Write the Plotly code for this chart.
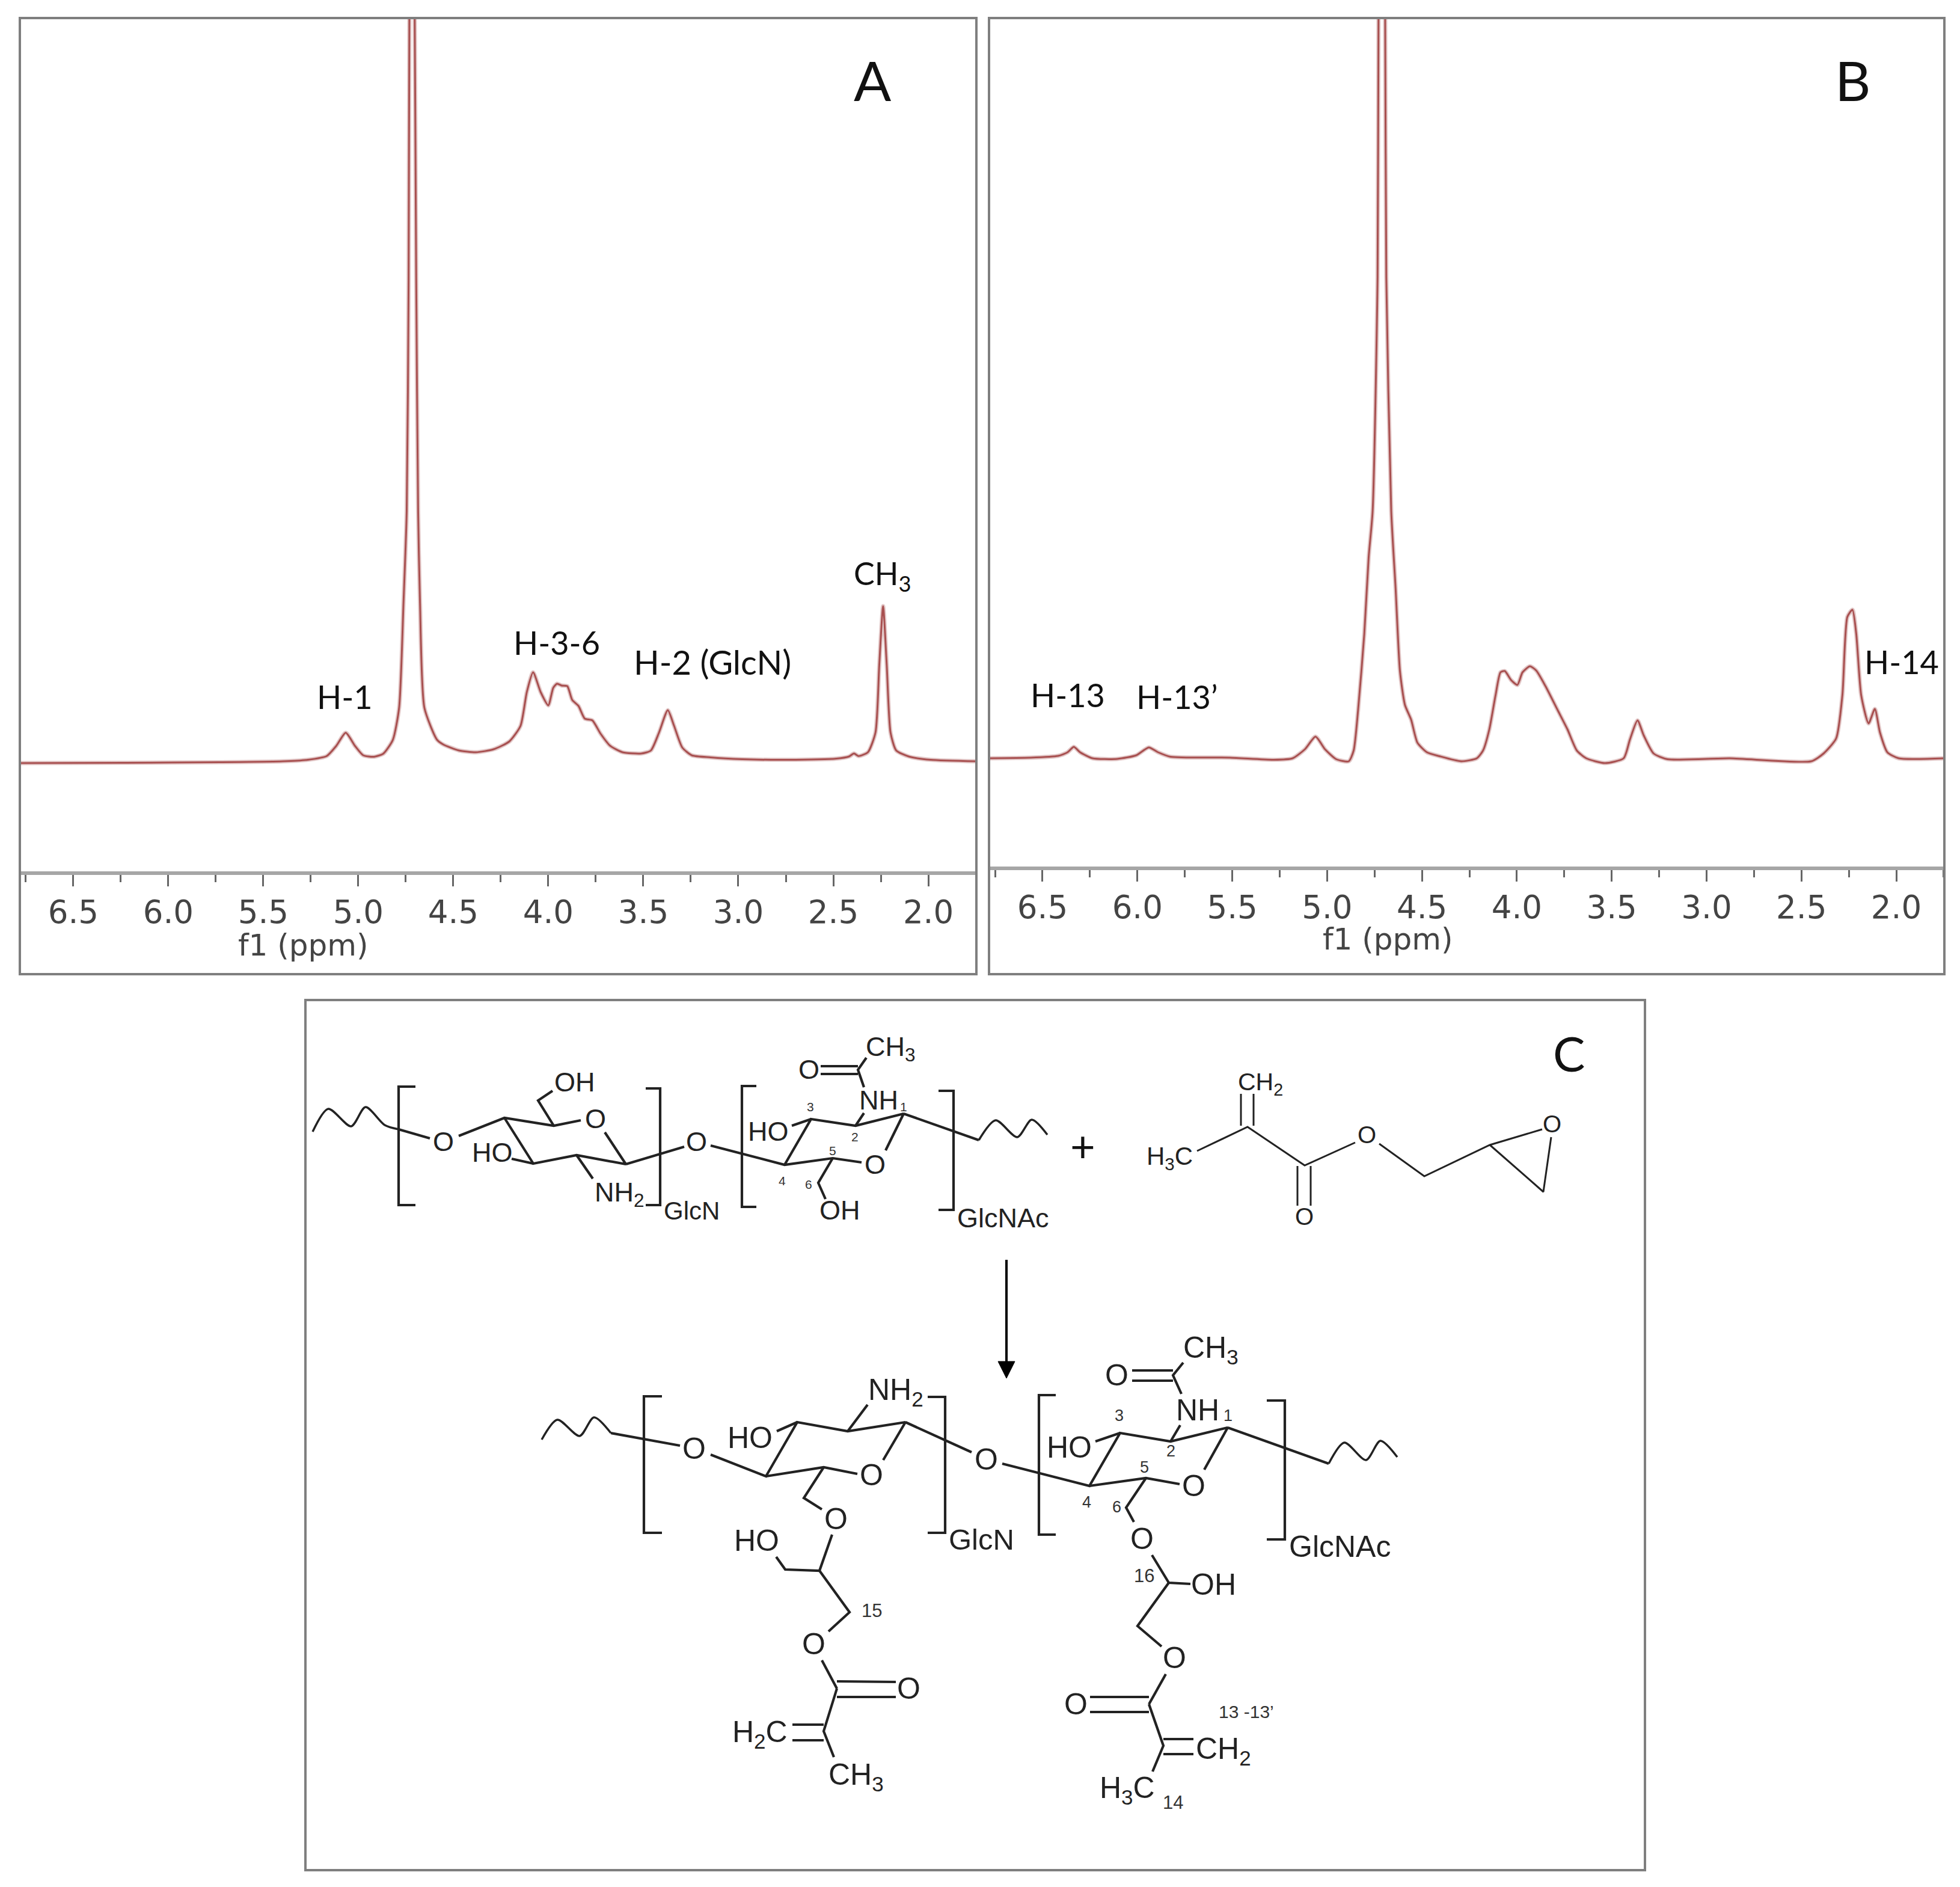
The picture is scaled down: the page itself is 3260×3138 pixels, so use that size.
# NMR spectra (A, B) and reaction scheme (C)
import plotly.graph_objects as go

W, H = 3260, 3138

# ------------------------- Spectrum data -------------------------
TICK_VALUES = [6.5, 6.0, 5.5, 5.0, 4.5, 4.0, 3.5, 3.0, 2.5, 2.0]
TICK_LABELS = ["6.5", "6.0", "5.5", "5.0", "4.5", "4.0", "3.5", "3.0", "2.5", "2.0"]

ppm_a = [
    6.781, 6.225, 5.728, 5.397, 5.265, 5.166, 5.116, 5.066, 5.017, 4.974, 4.917, 4.868,
    4.818, 4.785, 4.762, 4.745, 4.735, 4.731, 4.717, 4.703, 4.695, 4.685, 4.675, 4.652, 4.586, 4.553,
    4.47, 4.381, 4.288, 4.205, 4.146, 4.113, 4.08, 4.04, 4.0, 3.974, 3.954, 3.93, 3.9,
    3.874, 3.841, 3.808, 3.768, 3.725, 3.675, 3.609, 3.51, 3.46, 3.417, 3.371, 3.338,
    3.295, 3.245, 3.146, 2.98, 2.748, 2.483, 2.417, 2.391, 2.368, 2.318, 2.278, 2.258,
    2.238, 2.219, 2.199, 2.169, 2.103, 1.987, 1.745,
]
intensity_a = [
    -3, -2.5, -1.5, 0, 2.5, 8.7, 25.5, 47.5, 25.5, 10, 7.6, 12.8,
    35.7, 89, 263, 416, 800, 1236, 1700, 1236, 800, 416, 263, 89, 36, 28,
    18, 15, 20, 33, 59, 115, 148, 115, 93, 122, 129, 126, 125,
    102, 92, 71, 68, 46, 26, 15, 13, 18, 48, 85, 59,
    23, 10, 6.5, 3.5, 2.5, 4.5, 8, 13, 8.7, 15, 48, 161,
    258, 161, 48, 18, 8, 2.5, 0,
]

ppm_b = [
    6.78, 6.566, 6.418, 6.368, 6.335, 6.302, 6.236, 6.105, 6.006, 5.94, 5.891, 5.825,
    5.512, 5.281, 5.182, 5.117, 5.061, 5.011, 4.952, 4.886, 4.86, 4.837, 4.804, 4.781,
    4.76, 4.734, 4.729, 4.71, 4.694, 4.688, 4.662, 4.639, 4.616, 4.59, 4.557, 4.524, 4.474, 4.408,
    4.293, 4.211, 4.178, 4.145, 4.112, 4.086, 4.063, 4.03, 3.997, 3.97, 3.931, 3.898,
    3.849, 3.783, 3.733, 3.684, 3.634, 3.536, 3.437, 3.404, 3.364, 3.331, 3.279, 3.206,
    2.877, 2.449, 2.383, 2.317, 2.284, 2.258, 2.231, 2.211, 2.185, 2.146, 2.113, 2.086,
    2.047, 1.987, 1.747,
]
intensity_b = [
    0, 1, 4, 10, 19, 10, 0, -1, 5, 18, 10, 2.5,
    1, -2.5, 0, 15, 36, 15, -1.5, -5, 13, 79, 207, 334,
    411, 800, 1231, 1700, 1231, 800, 411, 283, 145, 89, 64, 26, 10, 3.5,
    -5, 0, 13, 48, 105, 143, 145, 130, 122, 143, 153, 146,
    120, 79, 48, 13, 0, -8, 0, 31, 63, 38, 8, -1.5,
    0, -5, 8, 33, 105, 235, 247, 207, 105, 58, 82, 43,
    10, 0, 0,
]

# ------------------------- Scheme drawing (panel C, image pixels) -------------------------
GLCN_TOP = [
    [(663, 1878), (715, 1893)],
    [(691, 1807), (663, 1807), (663, 2004), (691, 2004)],
    [(763, 1889), (839, 1859), (921, 1872), (966, 1863)],
    [(921, 1872), (895, 1830), (919, 1814)],
    [(839, 1859), (887, 1935), (959, 1921), (1041, 1936), (1006, 1883)],
    [(851, 1927), (887, 1935)],
    [(959, 1921), (986, 1960)],
    [(1041, 1936), (1138, 1907)],
    [(1074, 1810), (1098, 1810), (1098, 2004), (1074, 2004)],
]
GLCNAC_TOP = [
    [(1182, 1905), (1305, 1937), (1385, 1926), (1433, 1933)],
    [(1305, 1937), (1349, 1861), (1423, 1872), (1503, 1852), (1473, 1913)],
    [(1317, 1872), (1349, 1861)],
    [(1385, 1926), (1361, 1967), (1373, 1994)],
    [(1423, 1872), (1437, 1851)],
    [(1437, 1808), (1427, 1779), (1441, 1759)],
    [(1427, 1773), (1365, 1773)],
    [(1427, 1786), (1365, 1786)],
    [(1258, 1806), (1234, 1806), (1234, 2007), (1258, 2007)],
    [(1561, 1814), (1586, 1814), (1586, 2012), (1561, 2012)],
    [(1503, 1852), (1628, 1896)],
]
GMA = [
    [(2064, 1819), (2064, 1872)],
    [(2085, 1819), (2085, 1872)],
    [(1991, 1914), (2075, 1874), (2170, 1938), (2254, 1900)],
    [(2294, 1902), (2369, 1956), (2478, 1904), (2565, 1878)],
    [(2478, 1904), (2567, 1982), (2580, 1891)],
    [(2158, 1939), (2158, 2005)],
    [(2180, 1939), (2180, 2005)],
]
GLCN_LOW = [
    [(1016, 2383), (1131, 2404)],
    [(1101, 2322), (1071, 2322), (1071, 2549), (1101, 2549)],
    [(1182, 2419), (1274, 2455), (1326, 2365), (1410, 2380), (1506, 2365), (1469, 2428)],
    [(1274, 2455), (1370, 2440), (1426, 2451)],
    [(1292, 2380), (1326, 2365)],
    [(1410, 2380), (1443, 2336)],
    [(1506, 2365), (1616, 2415)],
    [(1543, 2323), (1572, 2323), (1572, 2549), (1543, 2549)],
    [(1370, 2440), (1337, 2491), (1367, 2510)],
    [(1384, 2552), (1363, 2612), (1306, 2610), (1291, 2589)],
    [(1363, 2612), (1413, 2681), (1378, 2713)],
    [(1367, 2761), (1392, 2808)],
    [(1392, 2796), (1490, 2797)],
    [(1392, 2822), (1490, 2822)],
    [(1392, 2808), (1370, 2879), (1387, 2922)],
    [(1370, 2868), (1318, 2868)],
    [(1370, 2894), (1318, 2894)],
]
GLCNAC_LOW = [
    [(1667, 2434), (1812, 2471), (1863, 2383), (1947, 2397), (2042, 2374), (2003, 2444)],
    [(1756, 2320), (1728, 2320), (1728, 2552), (1756, 2552)],
    [(1812, 2471), (1906, 2458), (1962, 2468)],
    [(1822, 2397), (1863, 2383)],
    [(1947, 2397), (1963, 2370)],
    [(1965, 2318), (1951, 2287), (1968, 2266)],
    [(1951, 2279), (1883, 2279)],
    [(1951, 2296), (1883, 2296)],
    [(2042, 2374), (2210, 2434)],
    [(2107, 2329), (2137, 2329), (2137, 2560), (2107, 2560)],
    [(1906, 2458), (1873, 2507), (1886, 2531)],
    [(1916, 2586), (1944, 2632), (1980, 2634)],
    [(1944, 2632), (1892, 2704), (1932, 2738)],
    [(1939, 2784), (1911, 2834)],
    [(1911, 2822), (1813, 2822)],
    [(1911, 2847), (1813, 2847)],
    [(1911, 2834), (1935, 2903), (1917, 2946)],
    [(1935, 2892), (1985, 2892)],
    [(1935, 2917), (1985, 2917)],
]
SQUIGGLES_TOP = [
    [(520, 1882), (546, 1844), (584, 1873), (608, 1841), (640, 1871), (663, 1878)],
    [(1628, 1896), (1656, 1863), (1692, 1891), (1716, 1862), (1742, 1887)],
]
SQUIGGLES_LOW = [
    [(901, 2394), (927, 2361), (964, 2388), (988, 2357), (1016, 2383)],
    [(2210, 2434), (2236, 2399), (2272, 2428), (2296, 2396), (2324, 2423)],
]

# text, x, y, size
ATOM_LABELS = [
    ("O", 737, 1899, 45), ("O", 990, 1861, 45), ("OH", 956, 1799, 45), ("HO", 819, 1916, 45),
    ("NH<sub>2</sub>", 1030, 1985, 45), ("O", 1158, 1899, 45), ("GlcN", 1150, 2014, 42),
    ("O", 1455, 1937, 45), ("HO", 1278, 1881, 45), ("OH", 1397, 2012, 45),
    ("NH", 1461, 1829, 45), ("O", 1345, 1779, 45), ("CH<sub>3</sub>", 1481, 1744, 45),
    ("GlcNAc", 1668, 2025, 45),
    ("CH<sub>2</sub>", 2096, 1802, 41), ("H<sub>3</sub>C", 1945, 1925, 42), ("O", 2273, 1887, 40),
    ("O", 2581, 1869, 40), ("O", 2169, 2023, 40),
    ("O", 1154, 2409, 50), ("O", 1449, 2453, 50), ("HO", 1247, 2391, 50),
    ("NH<sub>2</sub>", 1490, 2314, 50), ("O", 1640, 2427, 50), ("GlcN", 1632, 2560, 49),
    ("O", 1390, 2526, 50), ("HO", 1258, 2562, 50), ("O", 1353, 2734, 50), ("O", 1511, 2808, 50),
    ("H<sub>2</sub>C", 1264, 2883, 50), ("CH<sub>3</sub>", 1424, 2954, 50),
    ("O", 1985, 2471, 50), ("HO", 1779, 2407, 50), ("NH", 1992, 2345, 50), ("O", 1857, 2287, 50),
    ("CH<sub>3</sub>", 2014, 2244, 50), ("GlcNAc", 2228, 2572, 50), ("O", 1899, 2559, 50),
    ("OH", 2018, 2635, 50), ("O", 1953, 2757, 50), ("O", 1789, 2834, 50),
    ("CH<sub>2</sub>", 2035, 2911, 50), ("H<sub>3</sub>C", 1875, 2976, 50),
]
ATOM_NUMBERS = [
    ("3", 1348, 1840, 21), ("2", 1422, 1890, 21), ("1", 1503, 1840, 21), ("5", 1385, 1913, 21),
    ("4", 1301, 1963, 21), ("6", 1345, 1969, 21),
    ("1", 2042, 2354, 27), ("3", 1861, 2354, 27), ("2", 1947, 2413, 27), ("5", 1904, 2440, 27),
    ("4", 1807, 2498, 27), ("6", 1857, 2506, 27),
    ("15", 1450, 2678, 31), ("16", 1903, 2620, 31), ("14", 1951, 2997, 31),
    ("13 -13’", 2073, 2846, 30),
]
PEAK_LABELS = [
    ("H-1", 573, 1158, 54), ("H-3-6", 926, 1068, 54), ("H-2 (GlcN)", 1185, 1100, 56),
    ("CH<sub>3</sub>", 1468, 957, 52), ("H-13", 1776, 1155, 54), ("H-13’", 1957, 1158, 54),
    ("H-14", 3163, 1100, 54), ("A", 1451, 133, 92), ("B", 3081, 133, 92), ("C", 2609, 1751, 80),
    ("+", 1801, 1904, 72),
]

LINE_COLOR = "#a85050"
HALO_COLOR = "rgba(171,95,95,0.35)"
FRAME_COLOR = "#7f7f7f"
AXIS_FONT = "DejaVu Sans"
MOL_FONT = "Liberation Sans"
LABEL_FONT = "Lato"


def px(x):
    return x / W


def py(y):
    return 1 - y / H


def flatten(polylines):
    xs, ys = [], []
    for line in polylines:
        xs += [p[0] for p in line] + [None]
        ys += [p[1] for p in line] + [None]
    return xs, ys


fig = go.Figure()

# spectra: pale wide line under a thin one, the reference trace is soft edged
for ppm, intensity, xa, ya in [(ppm_a, intensity_a, "x", "y"), (ppm_b, intensity_b, "x2", "y2")]:
    fig.add_trace(go.Scatter(x=ppm, y=intensity, mode="lines", xaxis=xa, yaxis=ya, hoverinfo="skip",
                             line=dict(color=HALO_COLOR, width=7, shape="spline", smoothing=0.6)))
    fig.add_trace(go.Scatter(x=ppm, y=intensity, mode="lines", xaxis=xa, yaxis=ya, hoverinfo="skip",
                             line=dict(color=LINE_COLOR, width=3, shape="spline", smoothing=0.6)))

# scheme bonds
for group, width in [(GLCN_TOP, 4.2), (GLCNAC_TOP, 4.2), (GMA, 3), (GLCN_LOW, 4.2), (GLCNAC_LOW, 4.2)]:
    xs, ys = flatten(group)
    fig.add_trace(go.Scatter(x=xs, y=ys, mode="lines", xaxis="x3", yaxis="y3",
                             line=dict(color="#222222", width=width), hoverinfo="skip"))
for group in (SQUIGGLES_TOP, SQUIGGLES_LOW):
    for line in group:
        fig.add_trace(go.Scatter(x=[p[0] for p in line], y=[p[1] for p in line], mode="lines",
                                 xaxis="x3", yaxis="y3", hoverinfo="skip",
                                 line=dict(color="#222222", width=3.5, shape="spline", smoothing=0.8)))

# reaction arrow
fig.add_trace(go.Scatter(x=[1674, 1674], y=[2095, 2270], mode="lines", xaxis="x3", yaxis="y3",
                         line=dict(color="#000000", width=4), hoverinfo="skip"))
fig.add_trace(go.Scatter(x=[1660, 1688, 1674, 1660], y=[2264, 2264, 2292, 2264], mode="lines",
                         xaxis="x3", yaxis="y3", fill="toself", fillcolor="#000000",
                         line=dict(color="#000000", width=1), hoverinfo="skip"))


def spectrum_xaxis(domain, x_range, anchor):
    return dict(
        domain=domain, range=x_range, anchor=anchor,
        tickmode="array", tickvals=TICK_VALUES, ticktext=TICK_LABELS,
        ticks="outside", ticklen=19, tickwidth=3, tickcolor="#666666",
        ticklabelstandoff=-3,
        minor=dict(tickmode="linear", tick0=1.75, dtick=0.25, ticks="outside", ticklen=12,
                   tickwidth=3, tickcolor="#666666", showgrid=False),
        showline=True, linecolor="#a6a6a6", linewidth=6,
        showgrid=False, zeroline=False,
        tickfont=dict(family=AXIS_FONT, size=53, color="#444444"),
    )


def hidden_yaxis(domain, y_range, anchor):
    return dict(domain=domain, range=y_range, anchor=anchor, visible=False)


fig.update_layout(
    width=W, height=H,
    margin=dict(l=0, r=0, t=0, b=0),
    paper_bgcolor="white", plot_bgcolor="rgba(0,0,0,0)",
    showlegend=False,
    xaxis=spectrum_xaxis([px(33), px(1624)], [6.781, 1.747], "y"),
    yaxis=hidden_yaxis([py(1449), py(30)], [-183, 1236], "x"),
    xaxis2=spectrum_xaxis([px(1645), px(3234)], [6.782, 1.7465], "y2"),
    yaxis2=hidden_yaxis([py(1441), py(30)], [-180, 1231], "x2"),
    xaxis3=dict(domain=[px(508), px(2736)], range=[508, 2736], anchor="y3", visible=False),
    yaxis3=dict(domain=[py(3110), py(1663)], range=[3110, 1663], anchor="x3", visible=False),
)

# panel frames
for x0, y0, x1, y1 in [(33, 30, 1624, 1620), (1645, 30, 3234, 1620), (508, 1663, 2736, 3110)]:
    fig.add_shape(type="rect", xref="paper", yref="paper", x0=px(x0), x1=px(x1), y0=py(y1), y1=py(y0),
                  line=dict(color=FRAME_COLOR, width=4), fillcolor="rgba(0,0,0,0)")


def add_text(text, x, y, size, family, color):
    fig.add_annotation(text=text, xref="paper", yref="paper", x=px(x), y=py(y), showarrow=False,
                       xanchor="center", yanchor="middle", font=dict(family=family, size=size, color=color))


# axis titles sit under a fixed ppm, not the middle of the axis
fig.add_annotation(text="f1 (ppm)", xref="x", yref="paper", x=5.29, y=py(1572), showarrow=False,
                   font=dict(family=AXIS_FONT, size=50, color="#444444"))
fig.add_annotation(text="f1 (ppm)", xref="x2", yref="paper", x=4.68, y=py(1562), showarrow=False,
                   font=dict(family=AXIS_FONT, size=50, color="#444444"))

for text, x, y, size in PEAK_LABELS:
    add_text(text, x, y, size, LABEL_FONT, "#111111")
for text, x, y, size in ATOM_LABELS:
    add_text(text, x, y, size, MOL_FONT, "#222222")
for text, x, y, size in ATOM_NUMBERS:
    add_text(text, x, y, size, MOL_FONT, "#333333")

# the page's default body margin would push the figure 8 px off
fig.write_html("out.html", config={"displayModeBar": False},
               post_script="document.body.style.margin='0';")
